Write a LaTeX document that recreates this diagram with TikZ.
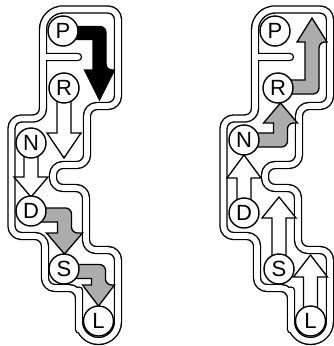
\documentclass[tikz,border=0pt]{standalone}
\usepackage{fontspec}
\setmainfont{Liberation Sans}
\usetikzlibrary{calc}

\tikzset{
  gatepos/.style={circle,draw,fill=white,line width=1.4pt,minimum size=30pt,
                  inner sep=0pt,font=\fontsize{22}{22}\selectfont},
  wallblack/.style={black,line width=8.4pt,line join=round,line cap=round},
  wallwhite/.style={white,line width=5.6pt,line join=round,line cap=round},
  arrwhite/.style={draw,fill=white,line width=1.3pt},
  arrgray/.style={draw,fill=gray!65,line width=1.3pt},
  arrblack/.style={draw,fill=black,line width=1.3pt},
}

\begin{document}
\begin{tikzpicture}[x=1pt,y=-1pt]
  \useasboundingbox (0,0) rectangle (334,346);
  % gate walls, both gates
  \foreach \dx in {0,212}{\foreach \sty in {wallblack,wallwhite}{
    \draw[\sty,xshift=\dx pt]
      [rounded corners=20pt] (43,80) -- (43,9.5) -- (80,9.5)
      [rounded corners=10pt] -- (118,9.5) -- (118,106) -- (87,106)
      -- (87,165) -- (53,165) -- (53,188) -- (86,188) -- (86,250)
      -- (118,250) -- (118,300)
      [rounded corners=19.5pt] -- (118,341) -- (79,341) -- (79,310)
      [rounded corners=10pt] -- (79,288) -- (45,288) -- (45,236)
      -- (11.5,236) -- (11.5,118.5) -- (43,118.5) -- cycle
      [sharp corners] (43,57) -- (78,57);}}
  % left gate: shifting down
  \draw[arrblack] (63,26.5) [rounded corners=6pt] -- (106,26.5) -- (106,70)
    [sharp corners] -- (114.5,70) -- (99.5,100) -- (84.5,70) -- (93,70)
    -- (93,39.5) -- (63,39.5) -- cycle;
  \foreach \x/\ya/\yb/\yt in {64/88/133/158,31/143/177/197}
    \draw[arrwhite] (\x-7,\ya) -- (\x-7,\yb) -- (\x-17,\yb) -- (\x,\yt)
      -- (\x+17,\yb) -- (\x+7,\yb) -- (\x+7,\ya) -- cycle;
  \draw[arrgray] (31,208) [rounded corners=6pt] -- (71.5,208) -- (71.5,233)
    [sharp corners] -- (82.5,233) -- (64.5,254) -- (46.5,233) -- (57.5,233)
    -- (57.5,222) -- (31,222) -- cycle;
  \draw[arrgray] (64,264.5) [rounded corners=6pt] -- (105.5,264.5) -- (105.5,285)
    [sharp corners] -- (114.5,285) -- (98.5,306) -- (82.5,285) -- (91.5,285)
    -- (91.5,278.5) -- (64,278.5) -- cycle;
  % right gate: shifting up
  \draw[arrgray] (244,147) [rounded corners=6pt] -- (287.5,147) -- (287.5,123)
    [sharp corners] -- (297.5,123) -- (280.5,103) -- (263.5,123) -- (273.5,123)
    -- (273.5,133) -- (244,133) -- cycle;
  \draw[arrgray] (277,94) [rounded corners=6pt] -- (319,94) -- (319,42)
    [sharp corners] -- (327,42) -- (312,18) -- (297,42) -- (305,42)
    -- (305,80) -- (277,80) -- cycle;
  \foreach \x/\ya/\yb/\yt in {244/211/178/155,279/269/218/197,310.5/321/277/255}
    \draw[arrwhite] (\x-7,\ya) -- (\x-7,\yb) -- (\x-17,\yb) -- (\x,\yt)
      -- (\x+17,\yb) -- (\x+7,\yb) -- (\x+7,\ya) -- cycle;
  % gear positions
  \foreach \n/\x/\y in {P/63/31,R/64/88,N/31/143,D/31/211,S/64/269,L/98.5/321}
    \node[gatepos] (l\n) at (\x,\y) {\n};
  \foreach \n/\x/\y in {P/275/31,R/278/88,N/244/140,D/244/213,S/279/269,L/310.5/321}
    \node[gatepos] (r\n) at (\x,\y) {\n};
\end{tikzpicture}
\end{document}
